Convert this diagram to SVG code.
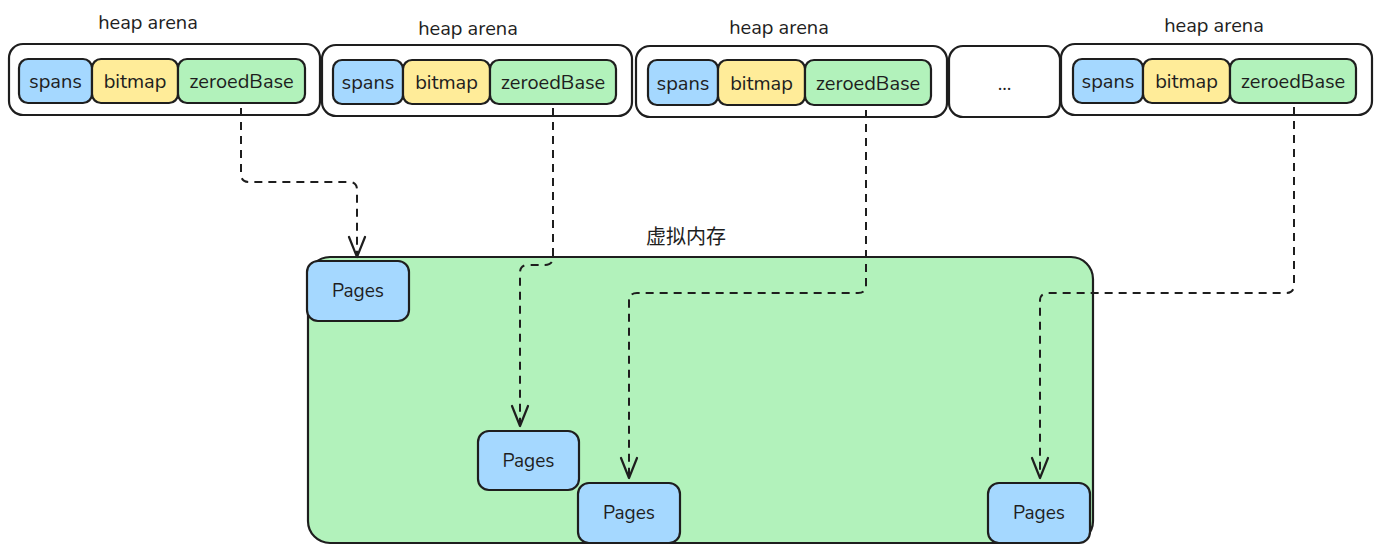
<svg xmlns="http://www.w3.org/2000/svg" width="1384" height="553" viewBox="0 0 1384 553">
<defs>
<style>
.box{stroke:#1e1e1e;stroke-width:2.2;}
.outer{fill:#ffffff;}
.blue{fill:#a5d8ff;}
.yellow{fill:#ffec99;}
.green{fill:#b2f2bb;}
.t{font-family:"Nunito","Noto Sans","Lato",sans-serif;font-size:20px;fill:#1e1e1e;text-anchor:middle;dominant-baseline:central;}
.p{font-family:"Nunito","Noto Sans","Lato",sans-serif;font-size:19px;fill:#1e1e1e;text-anchor:middle;dominant-baseline:central;}
.lbl{font-family:"Nunito","Noto Sans","Lato","Noto Sans CJK SC",sans-serif;font-size:20px;fill:#1e1e1e;text-anchor:middle;dominant-baseline:central;}
.conn{fill:none;stroke:#1e1e1e;stroke-width:2;stroke-dasharray:8 6;}
</style>
<marker id="arr" viewBox="0 0 24 24" refX="22" refY="12" markerWidth="24" markerHeight="24" markerUnits="userSpaceOnUse" orient="auto">
<path d="M2,4 L22,12 L2,20" fill="none" stroke="#1e1e1e" stroke-width="2.2" stroke-linecap="round" stroke-linejoin="round"/>
</marker>
</defs>
<rect width="1384" height="553" fill="#ffffff"/>

<g id="vmem">
<rect class="box green" x="308" y="257" width="785" height="286" rx="22"/>
<text class="lbl" x="686" y="237">虚拟内存</text>
</g>

<g id="arena1">
<text class="lbl" x="148" y="22">heap arena</text>
<rect class="box outer" x="9" y="44" width="311" height="71" rx="14"/>
<rect class="box blue" x="19" y="59" width="73" height="44" rx="9"/>
<text class="t" x="55.5" y="81">spans</text>
<rect class="box yellow" x="92" y="59" width="86" height="44" rx="9"/>
<text class="t" x="135" y="81">bitmap</text>
<rect class="box green" x="178" y="59" width="127" height="44" rx="9"/>
<text class="t" x="241.5" y="81">zeroedBase</text>
</g>

<g id="arena2">
<text class="lbl" x="468" y="28">heap arena</text>
<rect class="box outer" x="322" y="45" width="310" height="71" rx="14"/>
<rect class="box blue" x="333" y="60" width="70" height="44" rx="9"/>
<text class="t" x="368" y="82">spans</text>
<rect class="box yellow" x="403" y="60" width="87" height="44" rx="9"/>
<text class="t" x="446.5" y="82">bitmap</text>
<rect class="box green" x="490" y="60" width="126" height="44" rx="9"/>
<text class="t" x="553" y="82">zeroedBase</text>
</g>

<g id="arena3">
<text class="lbl" x="779" y="27">heap arena</text>
<rect class="box outer" x="636" y="46" width="311" height="71" rx="14"/>
<rect class="box blue" x="648" y="60" width="70" height="45" rx="9"/>
<text class="t" x="683" y="83">spans</text>
<rect class="box yellow" x="718" y="60" width="87" height="45" rx="9"/>
<text class="t" x="761.5" y="83">bitmap</text>
<rect class="box green" x="805" y="60" width="126" height="45" rx="9"/>
<text class="t" x="868" y="83">zeroedBase</text>
</g>

<g id="ellipsis">
<rect class="box outer" x="949" y="46" width="111" height="71" rx="14"/>
<text class="t" x="1004.5" y="83">...</text>
</g>

<g id="arena4">
<text class="lbl" x="1214" y="25">heap arena</text>
<rect class="box outer" x="1061" y="44" width="311" height="71" rx="14"/>
<rect class="box blue" x="1073" y="59" width="70" height="44" rx="9"/>
<text class="t" x="1108" y="81">spans</text>
<rect class="box yellow" x="1143" y="59" width="87" height="44" rx="9"/>
<text class="t" x="1186.5" y="81">bitmap</text>
<rect class="box green" x="1230" y="59" width="126" height="44" rx="9"/>
<text class="t" x="1293" y="81">zeroedBase</text>
</g>

<g id="pages1">
<rect class="box blue" x="307" y="261" width="102" height="60" rx="11"/>
<text class="p" x="358" y="291">Pages</text>
</g>
<g id="pages2">
<rect class="box blue" x="478" y="431" width="101" height="59" rx="11"/>
<text class="p" x="528.5" y="460.5">Pages</text>
</g>
<g id="pages3">
<rect class="box blue" x="578" y="483" width="102" height="60" rx="11"/>
<text class="p" x="629" y="513">Pages</text>
</g>
<g id="pages4">
<rect class="box blue" x="988" y="483" width="102" height="60" rx="11"/>
<text class="p" x="1039" y="513">Pages</text>
</g>

<g id="connectors">
<path class="conn" marker-end="url(#arr)" d="M241,108 L241,174 Q241,182 249,182 L349,182 Q357,182 357,190 L357,257"/>
<path class="conn" marker-end="url(#arr)" d="M553,108 L553,257 Q553,265 545,265 L528,265 Q520,265 520,273 L520,426"/>
<path class="conn" marker-end="url(#arr)" d="M866,110 L866,285 Q866,293 858,293 L637,293 Q629,293 629,301 L629,478"/>
<path class="conn" marker-end="url(#arr)" d="M1294,107 L1294,285 Q1294,293 1286,293 L1048,293 Q1040,293 1040,301 L1040,478"/>
</g>
</svg>
